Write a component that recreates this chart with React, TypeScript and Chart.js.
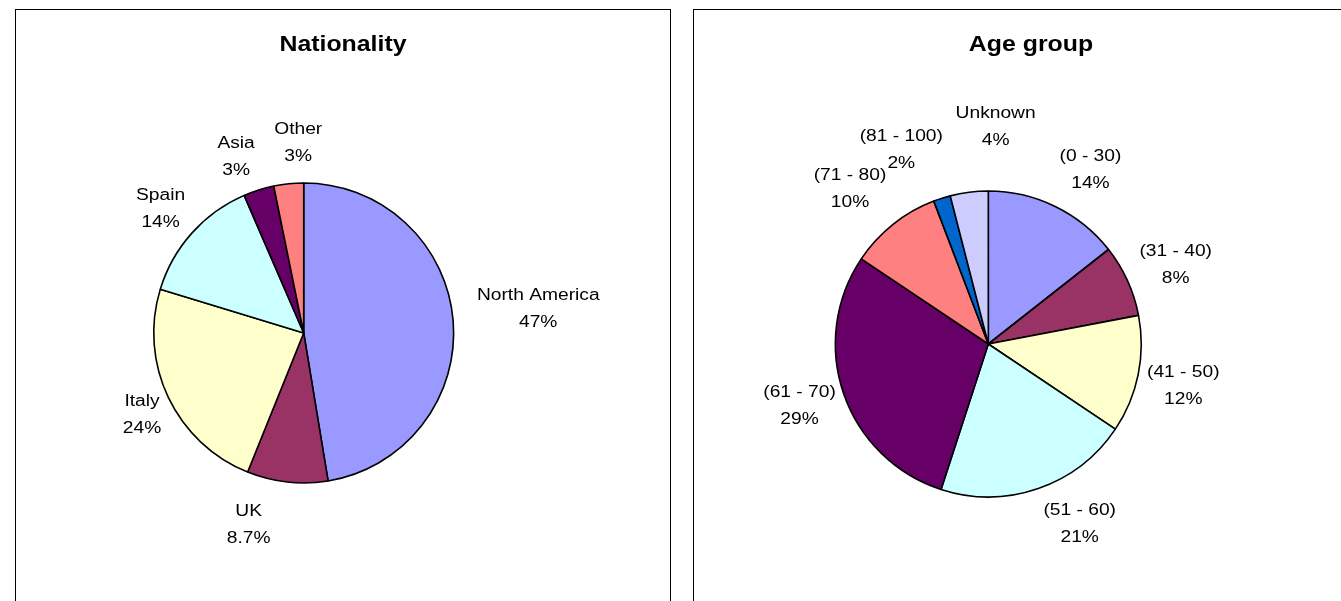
import React, { useEffect, useRef } from 'react';
import { Chart, registerables } from 'chart.js';

Chart.register(...registerables);

// ---------- data ----------
const natTitle = 'Nationality';
const natLabels = ['North America', 'UK', 'Italy', 'Spain', 'Asia', 'Other'];
const natValues = [47.4, 8.7, 23.6, 13.8, 3.3, 3.2];
const natPctText = ['47%', '8.7%', '24%', '14%', '3%', '3%'];

const ageTitle = 'Age group';
const ageLabels = ['(0 - 30)', '(31 - 40)', '(41 - 50)', '(51 - 60)', '(61 - 70)', '(71 - 80)', '(81 - 100)', 'Unknown'];
const ageValues = [14.4, 7.6, 12.4, 20.6, 29.4, 9.8, 1.8, 4.0];
const agePctText = ['14%', '8%', '12%', '21%', '29%', '10%', '2%', '4%'];

// ---------- styles / layout ----------
const natColors = ['#9999FF', '#993366', '#FFFFCC', '#CCFFFF', '#660066', '#FF8080'];
const ageColors = ['#9999FF', '#993366', '#FFFFCC', '#CCFFFF', '#660066', '#FF8080', '#0066CC', '#CCCCFF'];

// label nudges (px) applied after geometric placement
const natNudges = [[4, -9], [-34, -5], [9, -4], [2, 6], [-11, 11], [14, 5]];
const ageNudges = [[13, 5], [-3, 3], [-10, 1], [23, -10], [9, -5], [-8, 0], [-22, -5], [34, -20]];

const FONT_FAMILY = '"Liberation Sans", Arial, Helvetica, sans-serif';

const pieTextPlugin = {
  id: 'pieText',
  afterDatasetsDraw(chart: any, _args: any, opts: any) {
    const ctx = chart.ctx as CanvasRenderingContext2D;
    const meta = chart.getDatasetMeta(0);
    const { names, pcts, nudges, gap, stretch, lineH, title, titleY, titleStretch } = opts;
    ctx.save();
    // title
    ctx.font = `bold 22px ${FONT_FAMILY}`;
    ctx.fillStyle = '#000';
    ctx.textAlign = 'center';
    ctx.textBaseline = 'alphabetic';
    ctx.save();
    ctx.translate(chart.width / 2, titleY);
    ctx.scale(titleStretch, 1);
    ctx.fillText(title, 0, 0);
    ctx.restore();
    // labels
    ctx.font = `16px ${FONT_FAMILY}`;
    meta.data.forEach((arc: any, i: number) => {
      const p = arc.getProps(['x', 'y', 'startAngle', 'endAngle', 'outerRadius'], true);
      const mid = (p.startAngle + p.endAngle) / 2;
      const dx = Math.cos(mid);
      const dy = Math.sin(mid);
      const R = p.outerRadius + gap;
      const lines = [names[i], pcts[i]];
      const w = Math.max(...lines.map((t: string) => ctx.measureText(t).width)) * stretch;
      const h = lineH * 2;
      const cx = p.x + dx * R + (dx * w) / 2 + nudges[i][0];
      const cy = p.y + dy * R + (dy * h) / 2 + nudges[i][1];
      lines.forEach((t: string, k: number) => {
        const ly = cy + (k - 0.5) * lineH + 5.7;
        ctx.save();
        ctx.translate(cx, ly);
        ctx.scale(stretch, 1);
        ctx.fillText(t, 0, 0);
        ctx.restore();
      });
    });
    ctx.restore();
  },
};

type PanelProps = {
  left: number;
  top: number;
  width: number;
  height: number;
  title: string;
  labels: string[];
  values: number[];
  pcts: string[];
  colors: string[];
  nudges: number[][];
  cx: number;
  cy: number;
  r: number;
};

function PiePanel(props: PanelProps) {
  const ref = useRef<HTMLCanvasElement | null>(null);
  const W = props.width - 2;
  const H = props.height - 2;
  useEffect(() => {
    if (!ref.current) return;
    const half = props.r + 0.75;
    const chart = new Chart(ref.current, {
      type: 'pie',
      data: {
        labels: props.labels,
        datasets: [
          {
            data: props.values,
            backgroundColor: props.colors,
            borderColor: '#000',
            borderWidth: 1.6,
            hoverOffset: 0,
            offset: 0,
          } as any,
        ],
      },
      options: {
        animation: false,
        responsive: false,
        devicePixelRatio: 1,
        events: [],
        layout: {
          padding: {
            left: props.cx - half,
            top: props.cy - half,
            right: W - (props.cx + half),
            bottom: H - (props.cy + half),
          },
        },
        plugins: {
          legend: { display: false },
          title: { display: false },
          tooltip: { enabled: false },
          pieText: {
            names: props.labels,
            pcts: props.pcts,
            nudges: props.nudges,
            gap: 20,
            stretch: 1.2,
            lineH: 27,
            title: props.title,
            titleY: 41,
            titleStretch: 1.13,
          },
        } as any,
      },
      plugins: [pieTextPlugin as any],
    });
    return () => chart.destroy();
  }, []);
  return (
    <div
      style={{
        position: 'absolute',
        left: props.left,
        top: props.top,
        width: props.width,
        height: props.height,
        border: '1px solid #000',
        boxSizing: 'border-box',
        background: '#fff',
      }}
    >
      <canvas
        ref={ref}
        width={W}
        height={H}
        style={{ position: 'absolute', left: 0, top: 0, width: W, height: H, display: 'block' }}
      />
    </div>
  );
}

export default function App() {
  return (
    <div
      style={{
        position: 'fixed',
        left: 0,
        top: 0,
        width: 1341,
        height: 601,
        overflow: 'hidden',
        background: '#fff',
      }}
    >
      <PiePanel
        left={15}
        top={9}
        width={656}
        height={620}
        title={natTitle}
        labels={natLabels}
        values={natValues}
        pcts={natPctText}
        colors={natColors}
        nudges={natNudges}
        cx={287.7}
        cy={323}
        r={150}
      />
      <PiePanel
        left={693}
        top={9}
        width={676}
        height={620}
        title={ageTitle}
        labels={ageLabels}
        values={ageValues}
        pcts={agePctText}
        colors={ageColors}
        nudges={ageNudges}
        cx={294.3}
        cy={334}
        r={153}
      />
    </div>
  );
}
